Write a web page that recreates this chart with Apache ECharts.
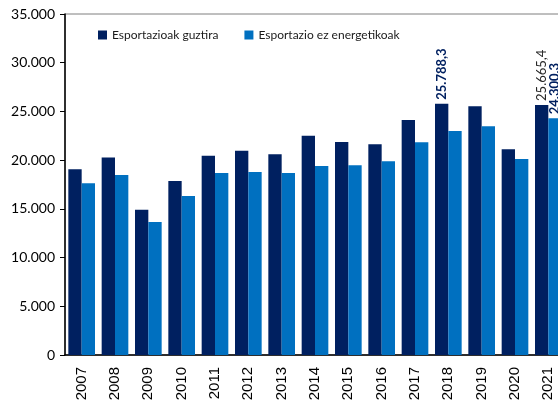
<!DOCTYPE html>
<html lang="eu">
<head>
<meta charset="UTF-8" />
<title>Esportazioak</title>
<script src="https://cdn.jsdelivr.net/npm/echarts@6/dist/echarts.min.js"></script>
<style>
  html, body { margin: 0; padding: 0; background: #fff; overflow: hidden; }
  #chart { width: 558px; height: 403px; }
</style>
</head>
<body>
<div id="chart"></div>
<script>
// datuak
const years = ["2007", "2008", "2009", "2010", "2011", "2012", "2013", "2014",
               "2015", "2016", "2017", "2018", "2019", "2020", "2021"];
const totalExports = [19060, 20280, 14910, 17860, 20460, 20970, 20600, 22510,
                      21860, 21620, 24120, 25788.3, 25520, 21110, 25665.4];
const nonEnergyExports = [17620, 18480, 13650, 16320, 18680, 18780, 18680, 19400,
                          19470, 19880, 21830, 22990, 23470, 20120, 24300.3];
const seriesNames = ["Esportazioak guztira", "Esportazio ez energetikoak"];
// which bars carry a value label, and how
const totalLabelled = { "2018": { bold: true, color: "#002060" }, "2021": { bold: false, color: "#262626" } };
const nonEnergyLabelled = { "2021": { bold: true, color: "#002060" } };

const fmtThousands = (v) => {
    const [int, dec] = String(v).split(".");
    const s = int.replace(/\B(?=(\d{3})+(?!\d))/g, ".");
    return dec ? s + "," + dec : s;
};

function withLabels(values, labelled) {
    return values.map((v, i) => {
        const cfg = labelled[years[i]];
        if (!cfg) return v;
        return {
            value: v,
            label: {
                show: true,
                position: "top",
                rotate: 90,
                align: "left",
                verticalAlign: "middle",
                distance: 4,
                fontFamily: "Lato, 'Noto Sans', sans-serif",
                fontSize: 13,
                fontWeight: cfg.bold ? "bold" : "normal",
                color: cfg.color,
                formatter: (p) => fmtThousands(p.value),
            },
        };
    });
}

const chart = echarts.init(document.getElementById("chart"));
chart.setOption({
    animation: false,
    textStyle: { fontFamily: "Lato, 'Noto Sans', sans-serif" },
    legend: {
        left: 93,
        top: 24,
        itemWidth: 9,
        itemHeight: 9,
        itemGap: 26,
        icon: "rect",
        textStyle: { fontSize: 12, color: "#1a1a1a", fontFamily: "Lato, sans-serif" },
        data: seriesNames,
    },
    grid: {
        left: 65,
        width: 500,
        top: 14,
        bottom: 48,
        containLabel: false,
        outerBoundsMode: "none",
        show: true,
        borderColor: "#7f7f7f",
        borderWidth: 1,
    },
    xAxis: {
        type: "category",
        data: years,
        axisLine: { lineStyle: { color: "#000", width: 1.5 } },
        axisTick: { show: false },
        axisLabel: {
            rotate: 90,
            margin: 12,
            fontSize: 15,
            color: "#000",
            fontFamily: "'Liberation Sans', Arial, sans-serif",
        },
    },
    yAxis: {
        type: "value",
        min: 0,
        max: 35000,
        interval: 5000,
        axisLine: { show: true, lineStyle: { color: "#000", width: 1.5 } },
        axisTick: { show: true, length: 5, lineStyle: { color: "#000" } },
        splitLine: { show: false },
        axisLabel: {
            margin: 10,
            fontSize: 14,
            color: "#000",
            formatter: (v) => fmtThousands(v),
        },
    },
    series: [
        {
            name: seriesNames[0],
            type: "bar",
            data: withLabels(totalExports, totalLabelled),
            itemStyle: { color: "#002060" },
            barGap: "0%",
            barCategoryGap: "20%",
        },
        {
            name: seriesNames[1],
            type: "bar",
            data: withLabels(nonEnergyExports, nonEnergyLabelled),
            itemStyle: { color: "#0070C0" },
            barGap: "0%",
            barCategoryGap: "20%",
        },
    ],
});
</script>
</body>
</html>
